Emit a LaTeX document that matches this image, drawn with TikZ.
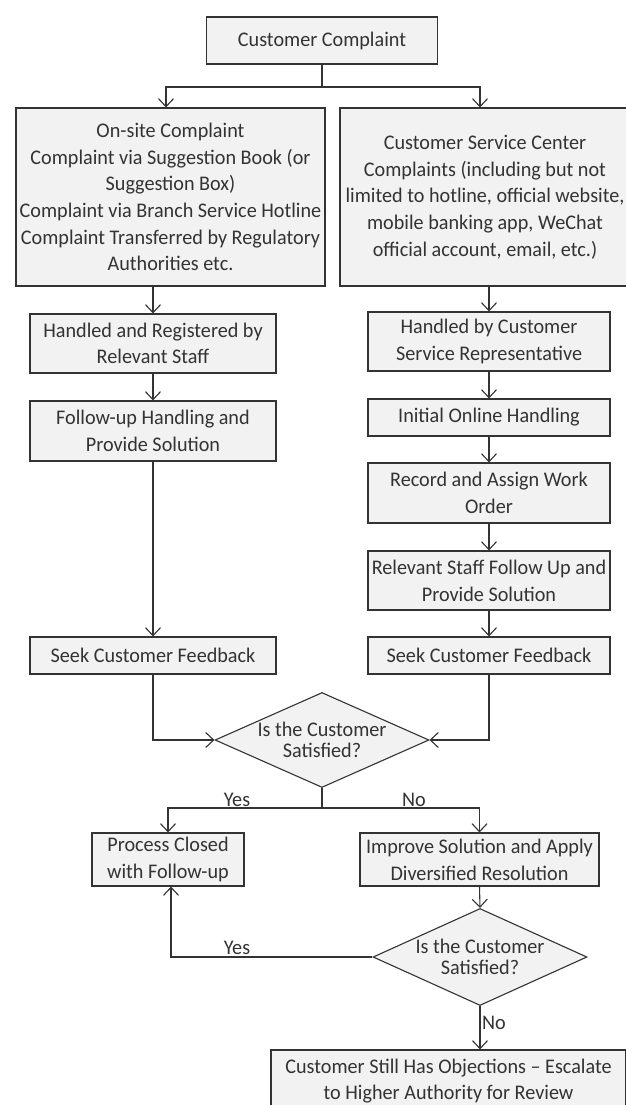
\documentclass[tikz,border=0pt]{standalone}
\usepackage{fontspec}
\setmainfont[FakeStretch=0.97]{Carlito}
\usetikzlibrary{arrows.meta,shapes.geometric}
\definecolor{boxfill}{HTML}{F2F2F2}
\definecolor{ink}{HTML}{333333}
\newcommand\bxfont{\fontsize{20.8}{26.7}\selectfont}
\newcommand\dgfont{\fontsize{20.8}{20.5}\selectfont}
\begin{document}
\begin{tikzpicture}[x=1pt,y=-1pt,
  box/.style={draw=ink, fill=boxfill, line width=1.1pt, inner sep=0pt, align=center, text=ink, font=\bxfont},
  dia/.style={diamond, draw=ink, fill=boxfill, line width=1.1pt, inner sep=0pt, minimum width=214pt, minimum height=95pt},
  dtext/.style={align=center, text=ink, font=\dgfont, inner sep=0pt},
  arr/.style={draw=ink, line width=1.1pt, -{Straight Barb[length=8pt,width=15pt]}},
  ln/.style={draw=ink, line width=1.1pt},
  lbl/.style={text=ink, font=\bxfont, inner sep=0pt}]
\useasboundingbox (0,0) rectangle (626,1105);
\fill[white] (0,0) rectangle (626,1105);

\node[box, minimum width=231pt, minimum height=47pt] (top) at (322,40.5) {Customer Complaint};
\node[box, minimum width=309pt, minimum height=178pt] (L1) at (170.5,197) {On-site Complaint\\Complaint via Suggestion Book (or\\Suggestion Box)\\Complaint via Branch Service Hotline\\Complaint Transferred by Regulatory\\Authorities etc.};
\node[box, minimum width=290pt, minimum height=178pt] (R1) at (485,197) {Customer Service Center\\Complaints (including but not\\limited to hotline, official website,\\mobile banking app, WeChat\\official account, email, etc.)};
\node[box, minimum width=246pt, minimum height=59pt] (L2) at (153,343.5) {Handled and Registered by\\Relevant Staff};
\node[box, minimum width=246pt, minimum height=60pt] (L3) at (153,431) {Follow-up Handling and\\Provide Solution};
\node[box, minimum width=246pt, minimum height=37pt] (L4) at (153,655.5) {Seek Customer Feedback};
\node[box, minimum width=242pt, minimum height=59pt] (R2) at (489,341.5) {Handled by Customer\\Service Representative};
\node[box, minimum width=242pt, minimum height=37pt] (R3) at (489,417.5) {Initial Online Handling};
\node[box, minimum width=242pt, minimum height=60pt] (R4) at (489,493) {Record and Assign Work\\Order};
\node[box, minimum width=242pt, minimum height=59pt] (R5) at (489,580.5) {Relevant Staff Follow Up and\\Provide Solution};
\node[box, minimum width=242pt, minimum height=37pt] (R6) at (489,655.5) {Seek Customer Feedback};
\node[dia, label={[dtext]center:Is the Customer\\Satisfied?}] (D1) at (322,740) {};
\node[box, minimum width=152pt, minimum height=53pt] (P) at (168,859.5) {Process Closed\\with Follow-up};
\node[box, minimum width=239pt, minimum height=53pt] (I) at (479.5,859.5) {Improve Solution and Apply\\Diversified Resolution};
\node[dia, minimum height=97pt, label={[dtext]center:Is the Customer\\Satisfied?}] (D2) at (480,957) {};
\node[box, minimum width=355pt, minimum height=62pt] (F) at (448.5,1081) {Customer Still Has Objections – Escalate\\to Higher Authority for Review};

\coordinate (J1) at (322,87);
\draw[ln] (top.south) -- (J1);
\draw[arr] (J1) -| ([xshift=-4.5pt]L1.north);
\draw[arr] (J1) -| ([xshift=-5pt]R1.north);
\draw[arr] (L2.north |- L1.south) -- (L2.north);
\draw[arr] (R2.north |- R1.south) -- (R2.north);
\draw[arr] (L2.south) -- (L3.north);
\draw[arr] (L3.south) -- (L4.north);
\draw[arr] (R2.south) -- (R3.north);
\draw[arr] (R3.south) -- (R4.north);
\draw[arr] (R4.south) -- (R5.north);
\draw[arr] (R5.south) -- (R6.north);
\draw[arr] (L4.south) |- (D1.west);
\draw[arr] (R6.south) |- (D1.east);
\coordinate (J2) at (322,808);
\draw[ln] (D1.south) -- (J2);
\draw[arr] (J2) -| (P.north);
\draw[arr] (J2) -| (I.north);
\draw[arr] (I.south) -- (D2.north);
\draw[arr] (D2.west) -| ([xshift=3pt]P.south);
\draw[arr] (D2.south) -- (D2.south |- F.north);

\node[lbl] (y1) at (237,800) {Yes};
\node[lbl] (n1) at (414,800) {No};
\node[lbl] (y2) at (237,948) {Yes};
\node[lbl, anchor=west] (n2) at (482,1023) {No};
\end{tikzpicture}
\end{document}
